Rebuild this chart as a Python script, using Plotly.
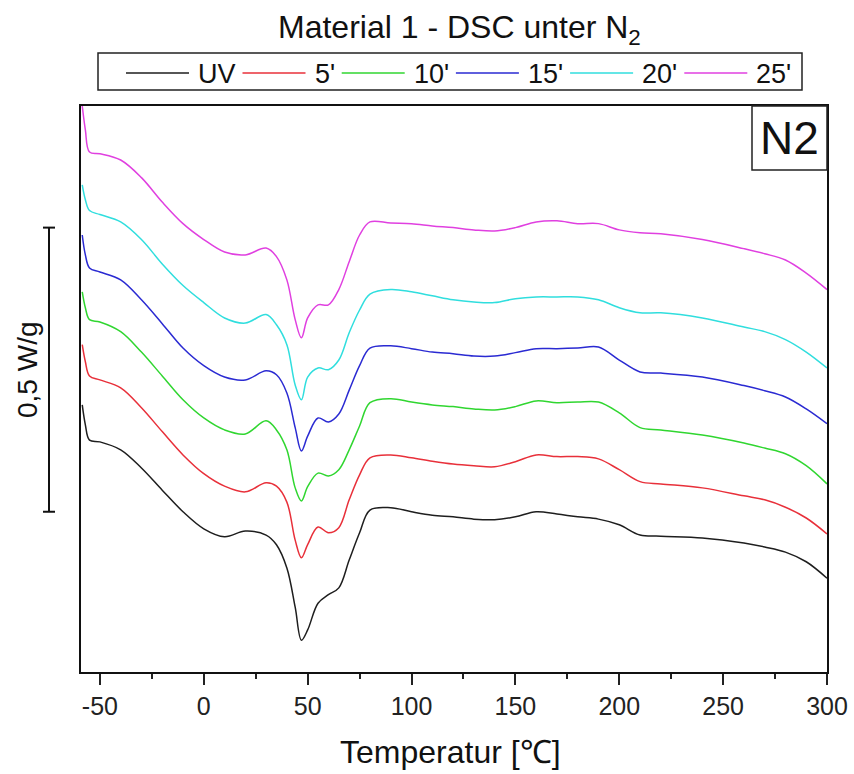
import plotly.graph_objects as go

# ---------------- data ----------------
temperature = [-58.5, -57, -55, -50, -40, -30, -20, -10, 0, 10, 20, 30, 35, 40, 44, 47,
               50, 55, 60, 65, 70, 75, 80, 90, 100, 110, 120, 130, 140, 150, 160, 170,
               180, 190, 200, 210, 220, 240, 260, 270, 280, 290, 300]

hf_uv = [0.470, 0.435, 0.408, 0.405, 0.391, 0.359, 0.320, 0.282, 0.252, 0.238, 0.248, 0.241,
         0.224, 0.183, 0.114, 0.056, 0.074, 0.121, 0.136, 0.148, 0.197, 0.245, 0.285, 0.289,
         0.282, 0.276, 0.273, 0.269, 0.268, 0.273, 0.282, 0.278, 0.273, 0.269, 0.259, 0.241,
         0.239, 0.236, 0.227, 0.220, 0.211, 0.194, 0.165]

hf_5 = [0.576, 0.546, 0.521, 0.514, 0.500, 0.465, 0.423, 0.382, 0.349, 0.327, 0.317, 0.333,
        0.327, 0.299, 0.232, 0.201, 0.224, 0.255, 0.245, 0.254, 0.303, 0.347, 0.377, 0.382,
        0.377, 0.371, 0.366, 0.363, 0.361, 0.370, 0.382, 0.379, 0.379, 0.375, 0.356, 0.335,
        0.331, 0.324, 0.310, 0.303, 0.290, 0.271, 0.243]

hf_10 = [0.669, 0.641, 0.620, 0.616, 0.599, 0.563, 0.521, 0.479, 0.447, 0.426, 0.419, 0.442,
         0.426, 0.391, 0.324, 0.301, 0.326, 0.350, 0.345, 0.356, 0.391, 0.433, 0.474, 0.481,
         0.475, 0.470, 0.467, 0.463, 0.461, 0.467, 0.477, 0.474, 0.475, 0.475, 0.456, 0.430,
         0.426, 0.417, 0.403, 0.394, 0.384, 0.363, 0.331]

hf_15 = [0.769, 0.734, 0.711, 0.704, 0.690, 0.655, 0.613, 0.570, 0.539, 0.519, 0.514, 0.530,
         0.523, 0.491, 0.430, 0.389, 0.415, 0.447, 0.440, 0.454, 0.496, 0.539, 0.570, 0.574,
         0.569, 0.563, 0.560, 0.556, 0.556, 0.562, 0.569, 0.569, 0.570, 0.572, 0.549, 0.528,
         0.526, 0.519, 0.504, 0.495, 0.484, 0.463, 0.437]

hf_20 = [0.857, 0.831, 0.812, 0.805, 0.792, 0.761, 0.718, 0.680, 0.650, 0.623, 0.614, 0.629,
         0.611, 0.576, 0.505, 0.479, 0.519, 0.535, 0.532, 0.549, 0.597, 0.637, 0.665, 0.673,
         0.669, 0.662, 0.655, 0.651, 0.650, 0.657, 0.660, 0.660, 0.660, 0.655, 0.641, 0.632,
         0.632, 0.623, 0.607, 0.599, 0.585, 0.563, 0.535]

hf_25 = [0.996, 0.954, 0.915, 0.912, 0.901, 0.870, 0.827, 0.789, 0.761, 0.739, 0.734, 0.746,
         0.731, 0.690, 0.620, 0.588, 0.623, 0.646, 0.646, 0.673, 0.722, 0.769, 0.792, 0.790,
         0.789, 0.785, 0.782, 0.778, 0.776, 0.782, 0.792, 0.794, 0.789, 0.789, 0.778, 0.773,
         0.771, 0.761, 0.745, 0.736, 0.725, 0.702, 0.673]

series_names = ["UV", "5'", "10'", "15'", "20'", "25'"]
series_values = [hf_uv, hf_5, hf_10, hf_15, hf_20, hf_25]
series_colors = ["#1e1e1e", "#e8303a", "#30d630", "#2a2ad2", "#30dede", "#e040e0"]

x_ticks = [-50, 0, 50, 100, 150, 200, 250, 300]
scale_bar_value = 0.5          # W/g
scale_bar_bottom = 0.282       # W/g position of the bar's lower end

# ---------------- figure ----------------
W, H = 854, 774
L, R, T, B = 81, 27, 106, 102
PW, PH = W - L - R, H - T - B
FONT = "Liberation Sans, Arial, sans-serif"


def px(xp):
    return (xp - L) / PW


def py(yp):
    return (H - B - yp) / PH


fig = go.Figure()
for name, vals, col in zip(series_names, series_values, series_colors):
    fig.add_trace(go.Scatter(x=temperature, y=vals, mode="lines", name=name,
                             line=dict(color=col, width=1.5, shape="spline", smoothing=1.0),
                             showlegend=False))

shapes = []
annotations = []

# custom legend box (long line samples like the original)
shapes.append(dict(type="rect", xref="paper", yref="paper", x0=px(98), x1=px(802),
                   y0=py(90), y1=py(53), line=dict(color="#222", width=1.5)))
char_w = {"U": 19.5, "V": 18.0, "'": 5.2}
cursor = 126
for name, col in zip(series_names, series_colors):
    shapes.append(dict(type="line", xref="paper", yref="paper", x0=px(cursor), x1=px(cursor + 63),
                       y0=py(73), y1=py(73), line=dict(color=col, width=1.6)))
    annotations.append(dict(text=name, xref="paper", yref="paper", x=px(cursor + 70), y=py(74),
                            xanchor="left", yanchor="middle", showarrow=False,
                            font=dict(family=FONT, size=27, color="#111")))
    w = sum(char_w.get(c, 15.0) for c in name)
    cursor = cursor + 63 + 8 + w + 8

# title
annotations.append(dict(text="Material 1 - DSC unter N<sub>2</sub>", xref="paper", yref="paper",
                        x=px(459), y=py(30), xanchor="center", yanchor="middle", showarrow=False,
                        font=dict(family=FONT, size=32, color="#111")))

# x axis title
annotations.append(dict(text="Temperatur [℃]", xref="paper", yref="paper",
                        x=px(450), y=py(752), xanchor="center", yanchor="middle", showarrow=False,
                        font=dict(family=FONT, size=32, color="#111")))

# N2 box
shapes.append(dict(type="rect", xref="paper", yref="paper", x0=px(752), x1=1.0,
                   y0=py(170), y1=1.0, line=dict(color="#222", width=1.5)))
annotations.append(dict(text="N2", xref="paper", yref="paper", x=px(789), y=py(138),
                        xanchor="center", yanchor="middle", showarrow=False,
                        font=dict(family=FONT, size=46, color="#111")))

# scale bar 0,5 W/g
y0s, y1s = scale_bar_bottom, scale_bar_bottom + scale_bar_value
shapes.append(dict(type="line", xref="paper", yref="y", x0=px(49), x1=px(49), y0=y0s, y1=y1s,
                   line=dict(color="#111", width=2)))
for yy in (y0s, y1s):
    shapes.append(dict(type="line", xref="paper", yref="y", x0=px(43), x1=px(55), y0=yy, y1=yy,
                       line=dict(color="#111", width=2)))
annotations.append(dict(text="0,5 W/g", xref="paper", yref="paper", x=px(27), y=py(370),
                        xanchor="center", yanchor="middle", textangle=-90, showarrow=False,
                        font=dict(family=FONT, size=28, color="#111")))

fig.update_layout(
    width=W, height=H,
    margin=dict(l=L, r=R, t=T, b=B, autoexpand=False),
    paper_bgcolor="white", plot_bgcolor="white",
    showlegend=False,
    shapes=shapes, annotations=annotations,
    xaxis=dict(range=[-59.1, 300], tickvals=x_ticks, ticktext=[str(v) for v in x_ticks],
               ticks="outside", ticklen=11, tickwidth=2, tickcolor="#222",
               minor=dict(dtick=25, tick0=0, ticks="outside", ticklen=5, tickwidth=2, tickcolor="#222"),
               showline=True, linecolor="#111", linewidth=2, mirror=True,
               showgrid=False, zeroline=False, automargin=False,
               tickfont=dict(family=FONT, size=25, color="#222")),
    yaxis=dict(range=[0, 0.996], showticklabels=False, ticks="",
               showline=True, linecolor="#111", linewidth=2, mirror=True,
               showgrid=False, zeroline=False, automargin=False),
)

fig.write_html("out.html")
